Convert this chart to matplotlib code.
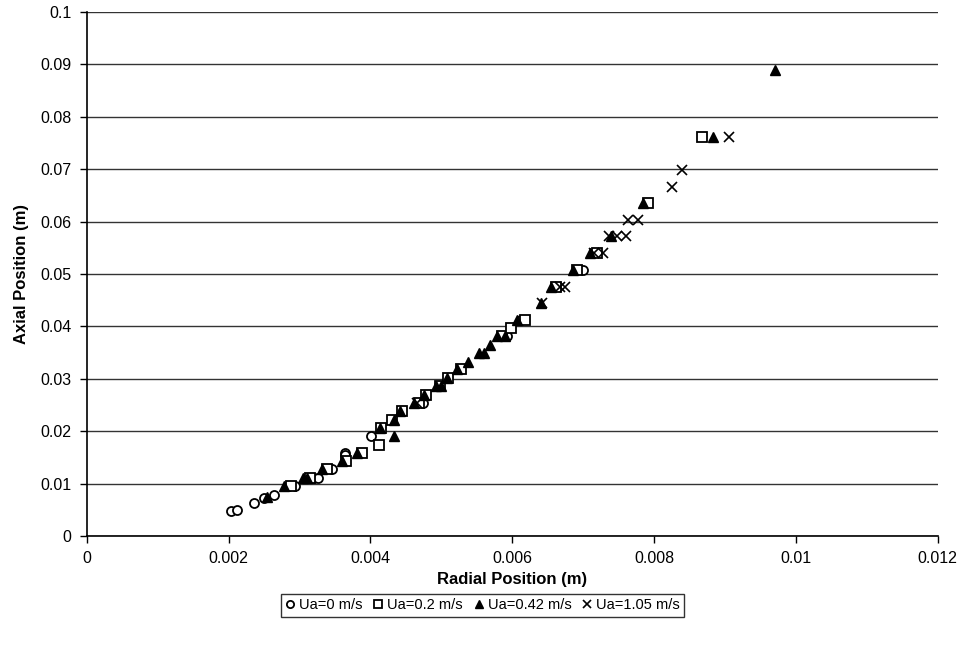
import matplotlib
matplotlib.use("Agg")
import matplotlib.pyplot as plt

plt.rcParams['font.family'] = ['Liberation Sans', 'DejaVu Sans']

# radial (m) / axial (m) positions for each air velocity
r_0 = [0.00203, 0.00212, 0.00236, 0.00250, 0.00264, 0.00285, 0.00293, 0.00320,
       0.00326, 0.00345, 0.00364, 0.00364, 0.00401, 0.00474, 0.00592, 0.00612, 0.00700]
z_0 = [0.0047, 0.0049, 0.0063, 0.0072, 0.0079, 0.0095, 0.0095, 0.0111,
       0.0111, 0.0127, 0.0159, 0.0155, 0.0190, 0.0254, 0.0381, 0.0413, 0.0508]

r_02 = [0.00288, 0.00315, 0.00338, 0.00366, 0.00388, 0.00412, 0.00415, 0.00430,
        0.00444, 0.00468, 0.00478, 0.00498, 0.00510, 0.00528, 0.00586, 0.00598,
        0.00618, 0.00662, 0.00692, 0.00720, 0.00792, 0.00868]
z_02 = [0.0095, 0.0111, 0.0127, 0.0143, 0.0159, 0.0174, 0.0206, 0.0222,
        0.0238, 0.0254, 0.0270, 0.0286, 0.0302, 0.0318, 0.0381, 0.0397,
        0.0413, 0.0476, 0.0508, 0.0540, 0.0635, 0.0762]

r_042 = [0.00254, 0.00278, 0.00305, 0.00310, 0.00331, 0.00360, 0.00381, 0.00433,
         0.00413, 0.00433, 0.00442, 0.00462, 0.00476, 0.00493, 0.00500, 0.00508,
         0.00522, 0.00538, 0.00553, 0.00560, 0.00568, 0.00578, 0.00590, 0.00607,
         0.00640, 0.00655, 0.00685, 0.00710, 0.00740, 0.00785, 0.00883, 0.00970]
z_042 = [0.0075, 0.0095, 0.0111, 0.0111, 0.0127, 0.0143, 0.0159, 0.0190,
         0.0206, 0.0222, 0.0238, 0.0254, 0.0270, 0.0286, 0.0286, 0.0302,
         0.0318, 0.0333, 0.0349, 0.0349, 0.0365, 0.0381, 0.0381, 0.0413,
         0.0445, 0.0476, 0.0508, 0.0540, 0.0572, 0.0635, 0.0762, 0.0889]

r_105 = [0.00466, 0.00642, 0.00668, 0.00674, 0.00715, 0.00728, 0.00737, 0.00748,
         0.00760, 0.00763, 0.00777, 0.00825, 0.00840, 0.00906]
z_105 = [0.0254, 0.0445, 0.0476, 0.0476, 0.0540, 0.0540, 0.0572, 0.0572,
         0.0572, 0.0603, 0.0603, 0.0667, 0.0699, 0.0762]

fig = plt.figure(figsize=(9.6, 6.5), dpi=100)
ax = fig.add_axes([0.0906, 0.1754, 0.886, 0.806])

ax.plot(r_0, z_0, 'o', ms=6.5, mfc='white', mec='black', mew=1.3, ls='none', label='Ua=0 m/s', zorder=3)
ax.plot(r_02, z_02, 's', ms=6.5, mfc='white', mec='black', mew=1.3, ls='none', label='Ua=0.2 m/s', zorder=3)
ax.plot(r_042, z_042, '^', ms=7, color='black', ls='none', label='Ua=0.42 m/s', zorder=3)
ax.plot(r_105, z_105, 'x', ms=7, color='black', mew=1.2, ls='none', label='Ua=1.05 m/s', zorder=3)

ax.set_xlim(0, 0.012)
ax.set_ylim(0, 0.1)
ax.set_xticks([0, 0.002, 0.004, 0.006, 0.008, 0.01, 0.012])
ax.set_xticklabels(['0', '0.002', '0.004', '0.006', '0.008', '0.01', '0.012'])
ax.set_yticks([i / 100 for i in range(11)])
ax.set_yticklabels(['0'] + ['0.%02d' % i for i in range(1, 10)] + ['0.1'])
ax.tick_params(direction='out', length=5, width=1, labelsize=11.5, pad=6)

ax.grid(axis='y', color='#333333', lw=1)
ax.set_axisbelow(True)
for s in ['top', 'right']:
    ax.spines[s].set_visible(False)
for s in ['left', 'bottom']:
    ax.spines[s].set_linewidth(1.2)

ax.set_xlabel('Radial Position (m)', fontsize=12, fontweight='bold', labelpad=4)
ax.set_ylabel('Axial Position (m)', fontsize=12, fontweight='bold', labelpad=8)

leg = fig.legend(loc='center', bbox_to_anchor=(0.503, 0.069), ncol=4, fontsize=10.5,
                 frameon=True, fancybox=False, edgecolor='black', handlelength=0.6,
                 handletextpad=0.3, columnspacing=0.8, borderpad=0.3, markerscale=0.8)
leg.get_frame().set_linewidth(1)

fig.savefig('out.png', dpi=100)
